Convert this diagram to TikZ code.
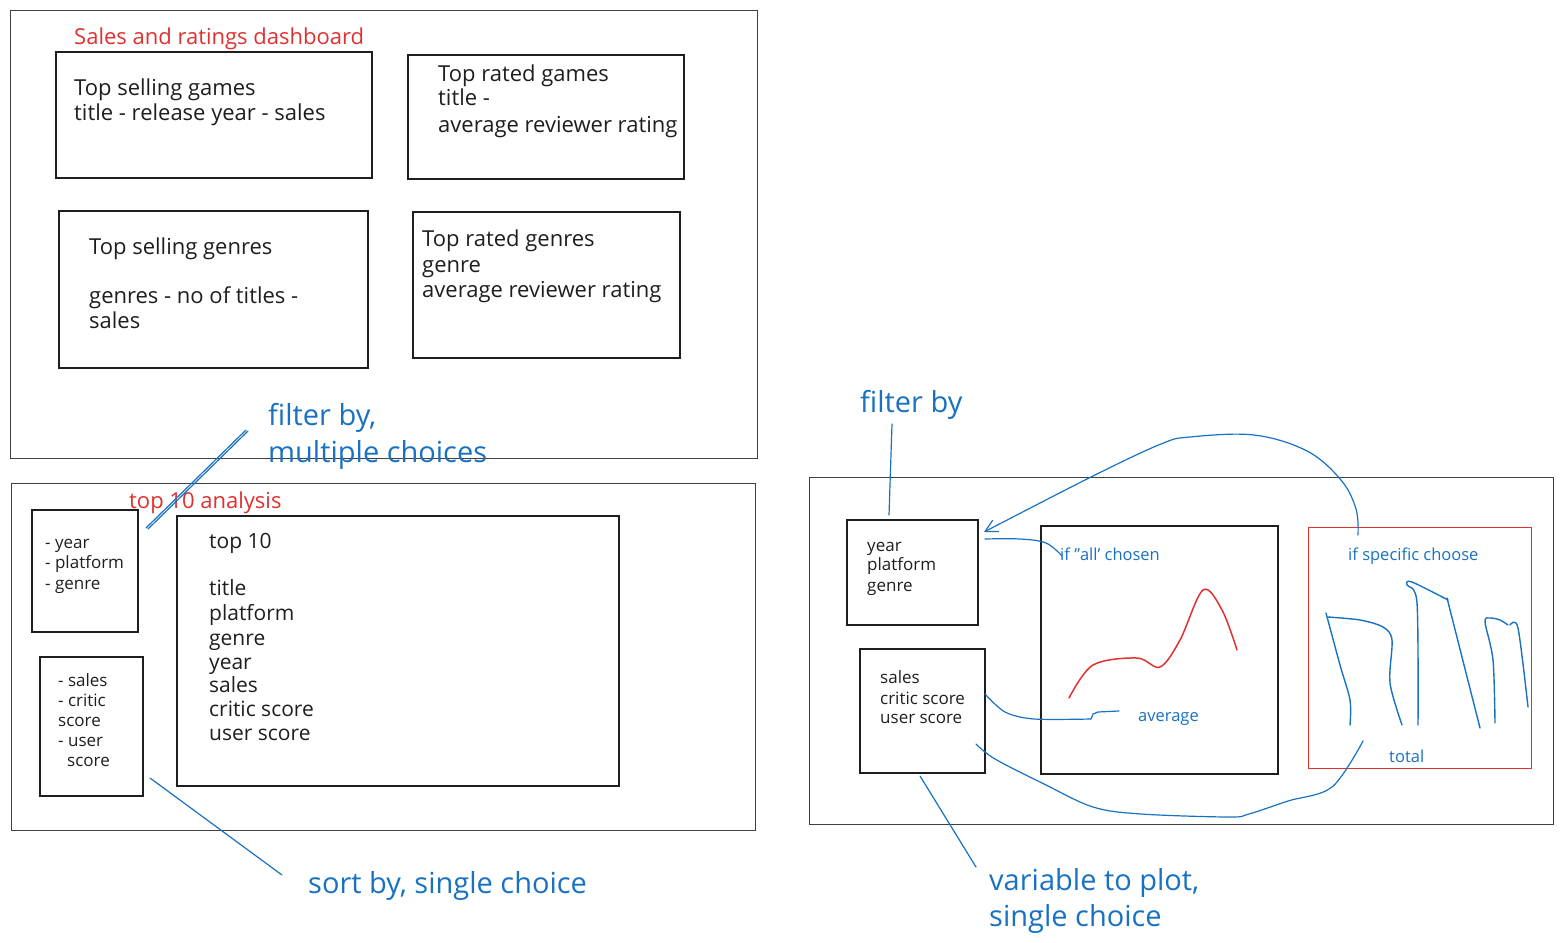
\documentclass[tikz,border=0pt]{standalone}
\usepackage{fontspec}
\setmainfont{Open Sans}
\usetikzlibrary{arrows.meta,calc}
\definecolor{ink}{HTML}{1E1E1E}
\definecolor{xblue}{HTML}{1971C2}
\definecolor{xred}{HTML}{E03131}
\tikzset{
 panel/.style={draw=ink!85,line width=1.3pt,inner sep=0pt,anchor=north west},
 box/.style={draw=ink,line width=1.6pt,inner sep=0pt,anchor=north west},
 redbox/.style={draw=xred,line width=1.4pt,inner sep=0pt,anchor=north west},
 lbl/.style={anchor=mid west,inner sep=0pt,text=ink,yshift=-5pt,font=\fontsize{22}{26}\selectfont},
 glbl/.style={lbl,font=\fontsize{21}{25}\selectfont},
 slbl/.style={lbl,font=\fontsize{17}{20}\selectfont},
 redlbl/.style={lbl,text=xred,font=\fontsize{22}{26}\selectfont},
 note/.style={lbl,text=xblue,yshift=-3pt,font=\fontsize{29}{34}\selectfont},
 snote/.style={lbl,text=xblue,font=\fontsize{16.5}{20}\selectfont},
 conn/.style={draw=xblue,line width=1.2pt,line cap=round,line join=round},
 sketch/.style={draw=xblue,line width=1.4pt,line cap=round,line join=round},
 redline/.style={draw=xred,line width=1.5pt,line cap=round,line join=round},
}
\begin{document}
\begin{tikzpicture}[x=1pt,y=-1pt]
\useasboundingbox (0,0) rectangle (1562,942);
% ---------- panel 1 ----------
\node[panel,minimum width=747,minimum height=448] (P1) at (10,10) {};
\node[box,minimum width=316,minimum height=126] (A) at (55,51) {};
\node[box,minimum width=276,minimum height=124] (B) at (407,54) {};
\node[box,minimum width=309,minimum height=157] (C) at (58,210) {};
\node[box,minimum width=267,minimum height=146] (D) at (412,211) {};
\node[redlbl] (t1) at (74,37) {Sales and ratings dashboard};
\node[lbl] (a1) at (74,88) {Top selling games};
\node[lbl] (a2) at (74,113) {title - release year - sales};
\node[lbl] (b1) at (438,74) {Top rated games};
\node[lbl] (b2) at (438,98) {title -};
\node[lbl] (b3) at (438,125) {average reviewer rating};
\node[lbl] (c1) at (89,247) {Top selling genres};
\node[lbl] (c2) at (89,296) {genres - no of titles -};
\node[lbl] (c3) at (89,321) {sales};
\node[lbl] (d1) at (422,239) {Top rated genres};
\node[lbl] (d2) at (422,265) {genre};
\node[lbl] (d3) at (422,290) {average reviewer rating};
\node[note] (n1) at (268,415) {filter by,};
\node[note] (n2) at (268,452) {multiple choices};
% ---------- panel 2 ----------
\node[panel,minimum width=744,minimum height=347] (P2) at (11,483) {};
\node[box,minimum width=106,minimum height=122] (E) at (31,509) {};
\node[box,minimum width=103,minimum height=139] (F) at (39,656) {};
\node[box,minimum width=442,minimum height=270] (G) at (176,515) {};
\node[redlbl] (t2) at (129,501) {top 10 analysis};
\node[slbl] (e1) at (45,541) {- year};
\node[slbl] (e2) at (45,561) {- platform};
\node[slbl] (e3) at (45,582) {- genre};
\node[slbl] (f1) at (58,679) {- sales};
\node[slbl] (f2) at (58,699) {- critic};
\node[slbl] (f3) at (58,719) {score};
\node[slbl] (f4) at (58,739) {- user};
\node[slbl] (f5) at (67,759) {score};
\node[glbl] (g1) at (209,541) {top 10};
\node[glbl] (g2) at (209,588) {title};
\node[glbl] (g3) at (209,613) {platform};
\node[glbl] (g4) at (209,638) {genre};
\node[glbl] (g5) at (209,662) {year};
\node[glbl] (g6) at (209,685) {sales};
\node[glbl] (g7) at (209,709) {critic score};
\node[glbl] (g8) at (209,733) {user score};
\node[note] (n3) at (308,883) {sort by, single choice};
\coordinate (fa) at (246,430);
\coordinate (fb) at (146,528);
\draw[conn] (fa) -- (fb);
\draw[conn] ($(fa)+(2,1)$) -- ($(fb)+(2,1)$);
\coordinate (sa) at (150,778);
\coordinate (sb) at (282,875);
\draw[conn] (sa) -- (sb);
% ---------- panel 3 ----------
\node[panel,minimum width=744,minimum height=347] (P3) at (809,477) {};
\node[box,minimum width=131,minimum height=105] (H) at (846,519) {};
\node[box,minimum width=125,minimum height=124] (I) at (859,648) {};
\node[box,minimum width=237,minimum height=248] (J) at (1040,525) {};
\node[redbox,minimum width=223,minimum height=241] (K) at (1308,527) {};
\node[note] (n4) at (860,402) {filter by};
\node[slbl] (h1) at (867,544) {year};
\node[slbl] (h2) at (867,563) {platform};
\node[slbl] (h3) at (867,584) {genre};
\node[slbl] (i1) at (880,676) {sales};
\node[slbl] (i2) at (880,697) {critic score};
\node[slbl] (i3) at (880,716) {user score};
\node[snote] (j1) at (1060,553) {if \char34 all' chosen};
\node[snote] (j2) at (1138,714) {average};
\node[snote] (k1) at (1348,553) {if specific choose};
\node[snote] (k2) at (1389,755) {total};
\node[note] (n5) at (989,880) {variable to plot,};
\node[note] (n6) at (989,916) {single choice};
% red line plot
\draw[redline] plot[smooth,tension=0.55] coordinates {(1069,698) (1093,665) (1137,658) (1160,667) (1180,640) (1203,590) (1222,610) (1237,650)};
% bar sketch
\draw[sketch] plot[smooth,tension=0.5] coordinates {(1326,613) (1340,665) (1350,700) (1350,725)};
\draw[sketch] plot[smooth,tension=0.5] coordinates {(1328,617) (1360,620) (1383,627) (1392,640) (1390,683) (1402,725)};
\draw[sketch] plot[smooth,tension=0.5] coordinates {(1418,725) (1417,603) (1407,585) (1412,582) (1448,600)};
\draw[sketch] (1447,598) -- (1480,728);
\draw[sketch] plot[smooth,tension=0.5] coordinates {(1495,723) (1493,660) (1485,622) (1490,618) (1500,620) (1508,625)};
\draw[sketch] plot[smooth,tension=0.5] coordinates {(1510,625) (1518,628) (1528,707)};
% connectors
\coordinate (fh1) at (892,424);
\coordinate (fh2) at (889,515);
\draw[conn] (fh1) -- (fh2);
\coordinate (ks) at (1358,535);
\coordinate (ht) at (984,532);
\draw[conn,-{Straight Barb[length=12pt,width=13pt]}] plot[smooth,tension=0.6] coordinates {(ks) (1356,509) (1341,480) (1307,451) (1254,435) (1190,437) (1161,444) (1093,476) (ht)};
\coordinate (hr) at (985,539);
\coordinate (ja) at (1062,556);
\draw[conn] plot[smooth,tension=0.6] coordinates {(hr) (1020,539) (1046,543) (ja)};
\coordinate (ir) at (985,694);
\coordinate (av) at (1119,711);
\draw[conn] plot[smooth,tension=0.5] coordinates {(ir) (1005,712) (1034,719) (1091,719)};
\draw[conn] (1091,719) -- (1093,714) -- (1098,712) -- (av);
\coordinate (ib) at (976,744);
\coordinate (tt) at (1363,741);
\draw[conn] plot[smooth,tension=0.55] coordinates {(ib) (995,759) (1044,784) (1093,807) (1141,814) (1229,817) (1249,814) (1288,801) (1332,787) (tt)};
\coordinate (va) at (920,776);
\coordinate (vb) at (976,867);
\draw[conn] (va) -- (vb);
\end{tikzpicture}
\end{document}
